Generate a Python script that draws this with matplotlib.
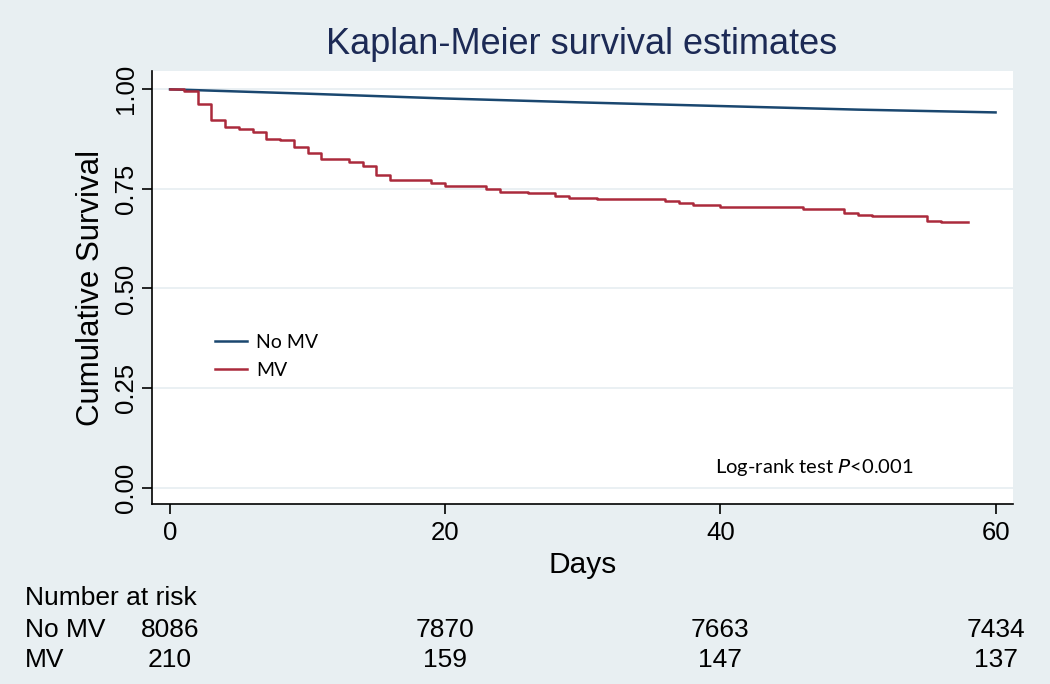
import matplotlib.pyplot as plt
from matplotlib.transforms import blended_transform_factory

# MV group: Kaplan-Meier step estimates (day, survival)
mv_days = [0, 1, 2, 3, 4, 5, 6, 7, 8, 9, 10, 11, 13, 14, 15, 16, 19, 20,
           23, 24, 26, 28, 29, 31, 36, 37, 38, 40, 46, 49, 50, 51, 55, 56, 58]
mv_surv = [1.0, 0.995, 0.964, 0.924, 0.906, 0.900, 0.892, 0.876, 0.872, 0.854,
           0.840, 0.824, 0.818, 0.807, 0.784, 0.772, 0.765, 0.757,
           0.749, 0.743, 0.739, 0.733, 0.728, 0.724, 0.719, 0.715, 0.709,
           0.705, 0.699, 0.690, 0.685, 0.681, 0.670, 0.666, 0.666]

# No MV group
nomv_days = [0, 10, 20, 30, 40, 50, 60]
nomv_surv = [1.0, 0.989, 0.977, 0.967, 0.958, 0.949, 0.942]

# number at risk table
risk_days = [0, 20, 40, 60]
risk_nomv = [8086, 7870, 7663, 7434]
risk_mv = [210, 159, 147, 137]

bg = '#e8eff2'
blue = '#1a476f'
red = '#ab2a3c'
main_font = 'Liberation Sans'
note_font = 'Lato'

fig = plt.figure(figsize=(10.5, 6.84), dpi=100, facecolor=bg)
ax = fig.add_axes([0.145, 0.2627, 0.8198, 0.6335])
ax.set_facecolor('white')

for g in [0, 0.25, 0.5, 0.75, 1.0]:
    ax.axhline(g, color='#e6eef1', lw=1.2, zorder=0)

ax.plot(nomv_days, nomv_surv, color=blue, lw=1.8, label='No MV')
ax.step(mv_days, mv_surv, where='post', color=red, lw=1.8, label='MV')

ax.set_xlim(-1.29, 61.27)
ax.set_ylim(-0.042, 1.046)
ax.set_xticks([0, 20, 40, 60])
ax.set_yticks([0, 0.25, 0.5, 0.75, 1.0])
ax.set_yticklabels(['0.00', '0.25', '0.50', '0.75', '1.00'], rotation=90, va='center')
ax.tick_params(axis='both', labelsize=18.5, length=7, width=1.2, colors='black')
ax.tick_params(axis='x', pad=5)
ax.tick_params(axis='y', pad=3)
for lab in ax.get_xticklabels() + ax.get_yticklabels():
    lab.set_fontfamily(main_font)

for side in ['top', 'right']:
    ax.spines[side].set_visible(False)
for side in ['left', 'bottom']:
    ax.spines[side].set_linewidth(1.2)

ax.set_xlabel('Days', fontsize=21.5, fontfamily=main_font, labelpad=4)
ax.set_ylabel('Cumulative Survival', fontsize=22.5, fontfamily=main_font, labelpad=6)
fig.text(582 / 1050, 1 - 45 / 684, 'Kaplan-Meier survival estimates', fontsize=26,
         color='#1c2a55', fontfamily=main_font, ha='center', va='center')

leg = ax.legend(loc='upper left', bbox_to_anchor=(0.073, 0.393), frameon=False,
                prop={'family': note_font, 'size': 14}, handlelength=1.65,
                handletextpad=0.45, labelspacing=0.55, borderpad=0, borderaxespad=0)

ax.text(0.654, 0.085, 'Log-rank test $\\mathit{P}$<0.001', transform=ax.transAxes,
        fontsize=14.5, fontfamily=note_font, va='center', ha='left')

# number at risk table below the axis
trans = blended_transform_factory(ax.transData, fig.transFigure)
fig.text(25 / 1050, 1 - 598 / 684, 'Number at risk', fontsize=19, fontfamily=main_font, va='center')
fig.text(25 / 1050, 1 - 630 / 684, 'No MV', fontsize=19, fontfamily=main_font, va='center')
fig.text(25 / 1050, 1 - 660 / 684, 'MV', fontsize=19, fontfamily=main_font, va='center')
for d, n1, n2 in zip(risk_days, risk_nomv, risk_mv):
    ax.text(d, 1 - 630 / 684, str(n1), transform=trans, fontsize=19,
            fontfamily=main_font, ha='center', va='center', clip_on=False)
    ax.text(d, 1 - 660 / 684, str(n2), transform=trans, fontsize=19,
            fontfamily=main_font, ha='center', va='center', clip_on=False)

fig.savefig('out.png', dpi=100, facecolor=bg)
